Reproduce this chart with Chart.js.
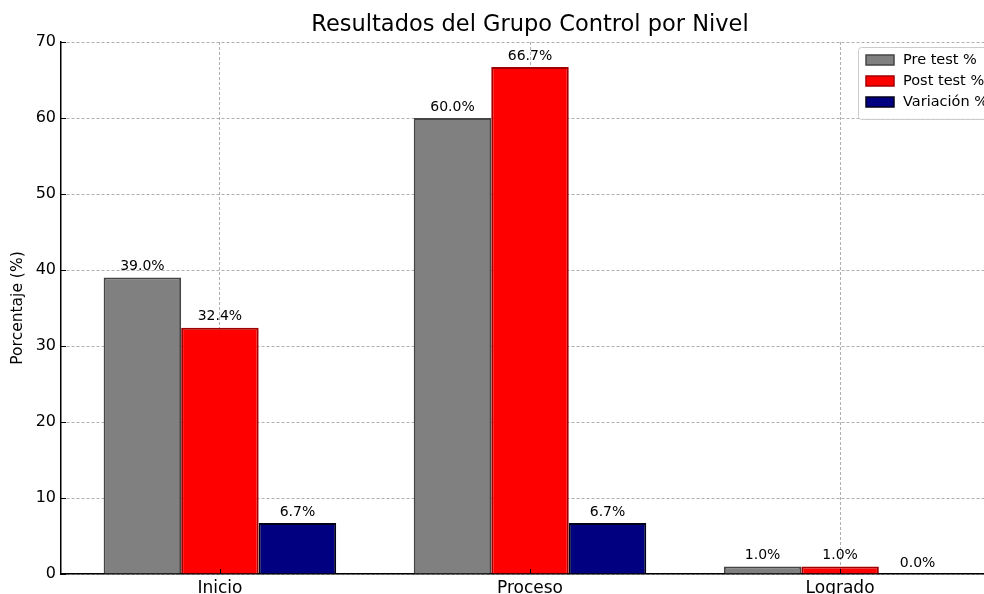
<!DOCTYPE html>
<html>
<head>
<meta charset="utf-8">
<script src="https://cdn.jsdelivr.net/npm/chart.js@4.4.1/dist/chart.umd.min.js"></script>
<style>
  html, body { margin: 0; padding: 0; background: #fff; overflow: hidden; }
  #wrap { width: 984px; height: 594px; overflow: hidden; }
</style>
</head>
<body>
<div id="wrap"><canvas id="chart" width="1000" height="600"></canvas></div>
<script>
// Resultados del Grupo Control por Nivel
const categories = ['Inicio', 'Proceso', 'Logrado'];
const seriesNames = ['Pre test %', 'Post test %', 'Variación %'];
const preTest = [39.0, 60.0, 1.0];
const postTest = [32.4, 66.7, 1.0];
const variacion = [6.7, 6.7, 0.0];
const yTicks = [0, 10, 20, 30, 40, 50, 60, 70];

const FONT = "'DejaVu Sans', sans-serif";
const fills = ['#808080', '#ff0000', '#000080'];
const edges = ['#454545', '#a00000', '#000018'];
const GRID = 'rgba(150,150,150,0.75)';

const toPoints = arr => arr.map((v, i) => ({ x: i, y: v }));

const titlePlugin = {
    id: 'titleText',
    afterDraw(chart) {
        const ctx = chart.ctx;
        const area = chart.chartArea;
        ctx.save();
        ctx.fillStyle = '#000';
        ctx.font = '22.5px ' + FONT;
        ctx.textAlign = 'center';
        ctx.textBaseline = 'middle';
        ctx.fillText('Resultados del Grupo Control por Nivel', (area.left + area.right) / 2, 25);
        ctx.restore();
    }
};

// small inward tick marks, matplotlib style
const innerTicks = {
    id: 'innerTicks',
    afterDraw(chart) {
        const ctx = chart.ctx;
        const area = chart.chartArea;
        const xs = chart.scales.x, ys = chart.scales.y;
        ctx.save();
        ctx.strokeStyle = '#000';
        ctx.lineWidth = 1;
        ctx.beginPath();
        categories.forEach((c, i) => {
            const px = Math.round(xs.getPixelForValue(i)) + 0.5;
            ctx.moveTo(px, area.bottom);
            ctx.lineTo(px, area.bottom - 5);
        });
        yTicks.forEach(v => {
            const py = Math.round(ys.getPixelForValue(v)) + 0.5;
            ctx.moveTo(area.left, py);
            ctx.lineTo(area.left + 5, py);
        });
        ctx.stroke();
        ctx.restore();
    }
};

const valueLabels = {
    id: 'valueLabels',
    afterDraw(chart) {
        const ctx = chart.ctx;
        ctx.save();
        ctx.fillStyle = '#000';
        ctx.font = '14px ' + FONT;
        ctx.textAlign = 'center';
        ctx.textBaseline = 'bottom';
        chart.data.datasets.forEach((ds, di) => {
            chart.getDatasetMeta(di).data.forEach((bar, i) => {
                ctx.fillText(ds.data[i].y.toFixed(1) + '%', bar.x, bar.y - 4);
            });
        });
        ctx.restore();
    }
};

const boxLegend = {
    id: 'boxLegend',
    afterDraw(chart) {
        const ctx = chart.ctx;
        const x0 = 858, y0 = 47, w = 140, h = 72;
        ctx.save();
        ctx.fillStyle = 'rgba(255,255,255,0.85)';
        ctx.strokeStyle = '#cccccc';
        ctx.lineWidth = 1;
        ctx.beginPath();
        ctx.roundRect(x0 + 0.5, y0 + 0.5, w, h, 3);
        ctx.fill();
        ctx.stroke();
        ctx.font = '14.5px ' + FONT;
        ctx.textBaseline = 'middle';
        seriesNames.forEach((name, i) => {
            const cy = y0 + 13 + i * 21;
            ctx.fillStyle = fills[i];
            ctx.fillRect(866, cy - 5, 28, 10);
            ctx.strokeStyle = edges[i];
            ctx.lineWidth = 1.5;
            ctx.strokeRect(866, cy - 5, 28, 10);
            ctx.fillStyle = '#000';
            ctx.fillText(name, 903, cy);
        });
        ctx.restore();
    }
};

new Chart(document.getElementById('chart'), {
    type: 'bar',
    data: {
        datasets: [preTest, postTest, variacion].map((vals, i) => ({
            label: seriesNames[i],
            data: toPoints(vals),
            backgroundColor: fills[i],
            borderColor: edges[i],
            borderWidth: 2,
            categoryPercentage: 0.75,
            barPercentage: 1.0
        }))
    },
    options: {
        responsive: false,
        animation: false,
        devicePixelRatio: 1,
        layout: { padding: { top: 42, right: 1, left: 0, bottom: 0 } },
        plugins: {
            legend: { display: false },
            title: { display: false },
            tooltip: { enabled: false }
        },
        scales: {
            x: {
                type: 'linear',
                min: -0.5125,
                max: 2.5125,
                offset: false,
                z: 1,
                afterBuildTicks: s => { s.ticks = categories.map((c, i) => ({ value: i })); },
                afterFit: s => { s.height = 26; },
                ticks: {
                    callback: v => categories[v],
                    color: '#000',
                    font: { family: FONT, size: 17 },
                    padding: 4,
                    maxRotation: 0
                },
                grid: { offset: false, color: GRID, lineWidth: 1, drawTicks: false },
                border: { display: true, color: '#000', width: 1.5, dash: [3, 2] }
            },
            y: {
                min: 0,
                max: 70,
                z: 1,
                afterBuildTicks: s => { s.ticks = yTicks.map(v => ({ value: v })); },
                afterFit: s => { s.width = 61; },
                ticks: {
                    color: '#000',
                    font: { family: FONT, size: 16 },
                    padding: 5
                },
                title: {
                    display: true,
                    text: 'Porcentaje (%)',
                    color: '#000',
                    font: { family: FONT, size: 15.5 },
                    padding: { top: 9, bottom: 0 }
                },
                grid: { color: GRID, lineWidth: 1, drawTicks: false },
                border: { display: true, color: '#000', width: 1.5, dash: [3, 2] }
            }
        }
    },
    plugins: [titlePlugin, innerTicks, valueLabels, boxLegend]
});
</script>
</body>
</html>
